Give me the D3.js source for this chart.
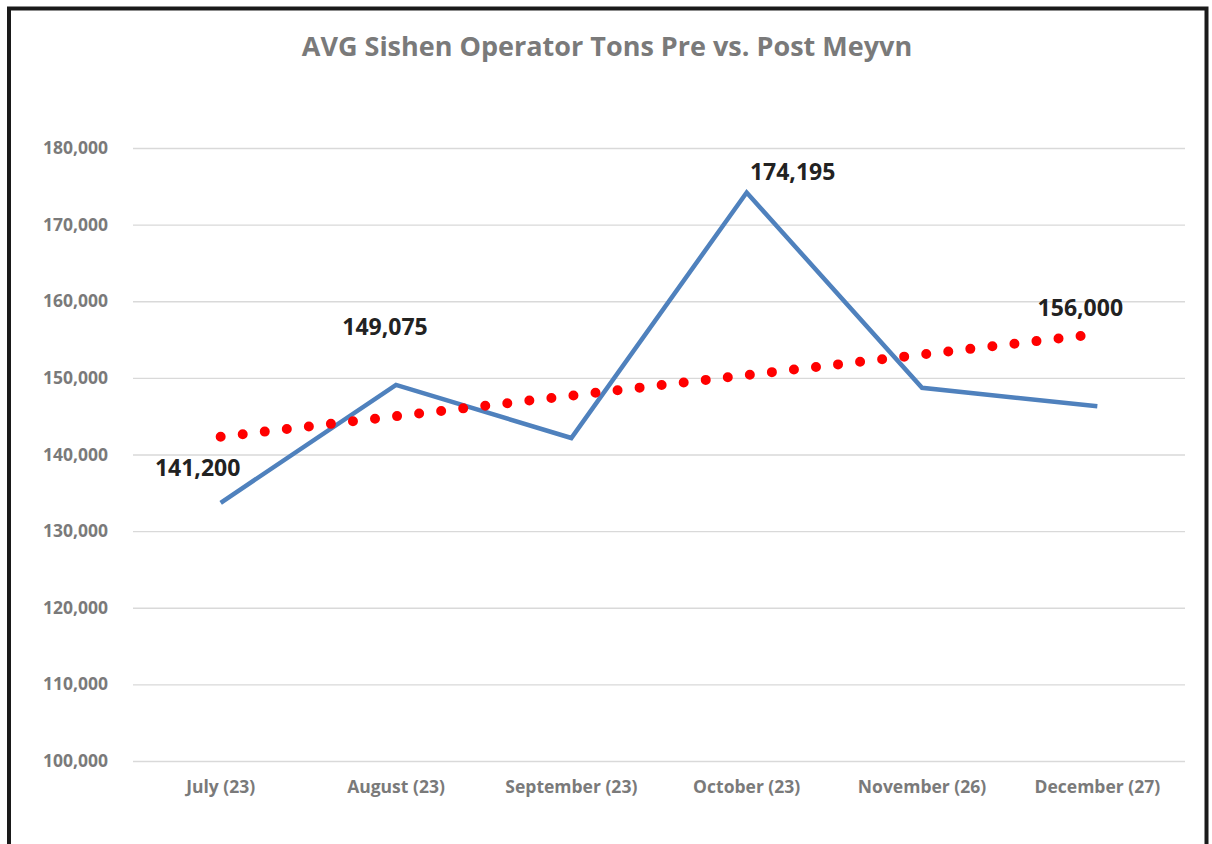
<!DOCTYPE html>
<html>
<head>
<meta charset="utf-8">
<script src="https://cdn.jsdelivr.net/npm/d3@7"></script>
<style>
  body { margin: 0; background: #fff; }
  svg text { font-family: "Open Sans", Lato, sans-serif; }
</style>
</head>
<body>
<div id="chart"></div>
<script>
// chart data
const categories = ["July (23)", "August (23)", "September (23)", "October (23)", "November (26)", "December (27)"]
const tons = [133700, 149075, 142150, 174195, 148700, 146300]
const yTicks = [100000, 110000, 120000, 130000, 140000, 150000, 160000, 170000, 180000]
// hand placed callouts: text, category, value it sits next to
const callouts = [
  { text: "141,200", cat: "July (23)", value: 141200, dx: -23, dy: 31 },
  { text: "149,075", cat: "August (23)", value: 149075, dx: -11, dy: -50 },
  { text: "174,195", cat: "October (23)", value: 174195, dx: 46, dy: -12 },
  { text: "156,000", cat: "December (27)", value: 156000, dx: -17, dy: -16 }
]

const width = 1212
const height = 844
const margin = { top: 148, right: 27, bottom: 83, left: 133 }

const svg = d3.select("#chart").append("svg")
  .attr("width", width)
  .attr("height", height)

// outer frame (bottom edge runs off the picture)
svg.append("path")
  .attr("d", "M9,850 L9,8.5 L1206.5,8.5 L1206.5,850")
  .attr("fill", "none")
  .attr("stroke", "#1a1a1a")
  .attr("stroke-width", 4)

svg.append("text")
  .attr("x", 607)
  .attr("y", 56)
  .attr("text-anchor", "middle")
  .attr("font-size", 27)
  .attr("font-weight", "bold")
  .attr("fill", "#7a7a7a")
  .text("AVG Sishen Operator Tons Pre vs. Post Meyvn")

const x = d3.scaleBand().domain(categories).range([margin.left, width - margin.right])
const y = d3.scaleLinear().domain([100000, 180000]).range([height - margin.bottom, margin.top])
const cx = d => x(d) + x.bandwidth() / 2

// gridlines
svg.append("g")
  .attr("transform", "translate(" + margin.left + ",0)")
  .call(d3.axisLeft(y).tickValues(yTicks).tickSize(-(width - margin.right - margin.left)).tickFormat(""))
  .call(g => g.select(".domain").remove())
  .call(g => g.selectAll("line").attr("stroke", "#d9d9d9").attr("stroke-width", 1.3))

// y tick labels
svg.append("g")
  .attr("transform", "translate(108,0)")
  .call(d3.axisLeft(y).tickValues(yTicks).tickSize(0).tickFormat(d3.format(",")))
  .call(g => g.select(".domain").remove())
  .call(g => g.selectAll("text")
    .attr("x", 0)
    .attr("font-size", 17.5)
    .attr("font-weight", "bold")
    .attr("fill", "#7a7a7a")
    .style("font-family", "'Open Sans', sans-serif"))

// x labels
svg.append("g")
  .attr("transform", "translate(0," + (height - margin.bottom) + ")")
  .call(d3.axisBottom(x).tickSize(0))
  .call(g => g.select(".domain").remove())
  .call(g => g.selectAll("text")
    .attr("y", 20)
    .attr("font-size", 17.5)
    .attr("font-weight", "bold")
    .attr("fill", "#7a7a7a")
    .style("font-family", "'Open Sans', sans-serif"))

// series line
const line = d3.line().x((d, i) => cx(categories[i])).y(d => y(d))
svg.append("path")
  .datum(tons)
  .attr("fill", "none")
  .attr("stroke", "#4f81bd")
  .attr("stroke-width", 4.5)
  .attr("stroke-linejoin", "miter")
  .attr("d", line)

// linear trendline (least squares over the series)
const idx = tons.map((d, i) => i)
const mx = d3.mean(idx)
const my = d3.mean(tons)
const slope = d3.sum(idx, i => (i - mx) * (tons[i] - my)) / d3.sum(idx, i => (i - mx) * (i - mx))
const trend = idx.map(i => my + slope * (i - mx))
svg.append("path")
  .datum(trend)
  .attr("fill", "none")
  .attr("stroke", "#ff0000")
  .attr("stroke-width", 10)
  .attr("stroke-linecap", "round")
  .attr("stroke-dasharray", "0 22.2")
  .attr("d", line)

// callouts
svg.append("g").selectAll("text")
  .data(callouts)
  .enter()
  .append("text")
  .attr("x", d => cx(d.cat) + d.dx)
  .attr("y", d => y(d.value) + d.dy)
  .attr("text-anchor", "middle")
  .attr("font-size", 23)
  .attr("font-weight", "bold")
  .attr("fill", "#222")
  .text(d => d.text)
</script>
</body>
</html>
